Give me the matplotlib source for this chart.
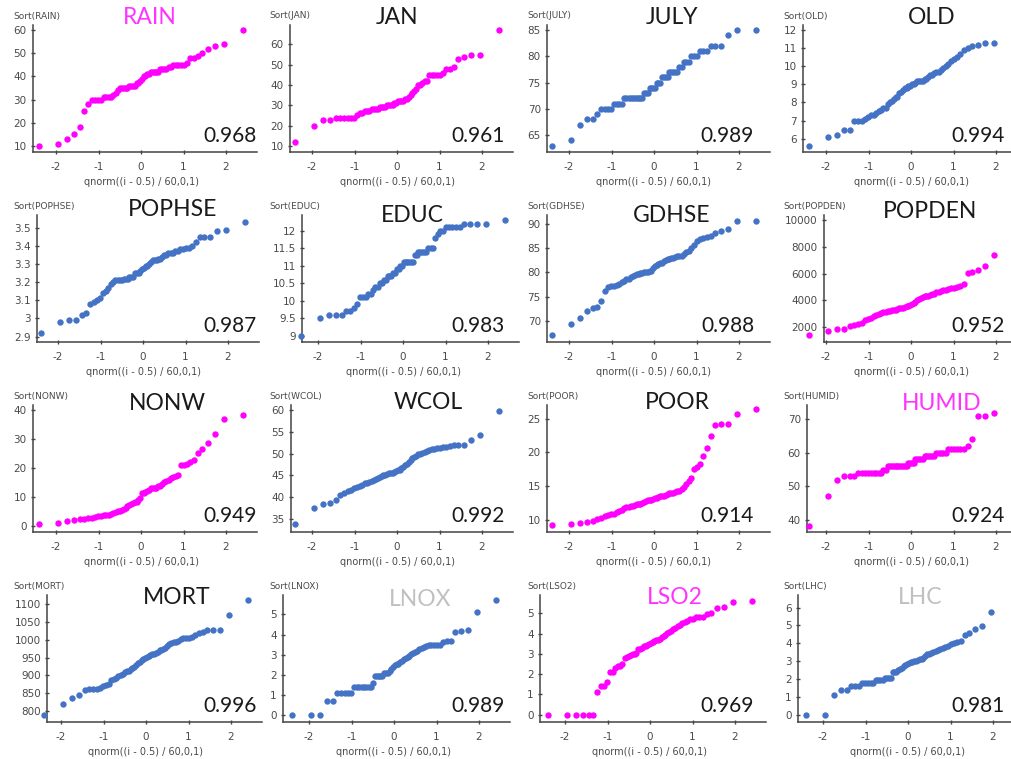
import statistics
import matplotlib
matplotlib.use('Agg')
import matplotlib.pyplot as plt
from matplotlib.ticker import MultipleLocator, FuncFormatter

# sorted values of each variable
rain = [10, 11, 13, 15, 18, 25, 28, 30, 30, 30,
        30, 31, 31, 31, 31, 32, 33, 34, 35, 35,
        35, 35, 35, 36, 36, 36, 36, 37, 37, 38,
        39, 40, 40, 41, 41, 42, 42, 42, 42, 42,
        43, 43, 43, 43, 44, 44, 45, 45, 45, 45,
        45, 46, 48, 48, 49, 50, 52, 53, 54, 60]
jan = [12, 20, 23, 23, 24, 24, 24, 24, 24, 24,
       25, 26, 26, 27, 27, 27, 28, 28, 28, 28,
       29, 29, 29, 29, 30, 30, 30, 30, 31, 31,
       32, 32, 32, 32, 33, 33, 34, 35, 36, 37,
       38, 40, 40, 41, 42, 42, 45, 45, 45, 45,
       45, 46, 48, 48, 49, 53, 54, 55, 55, 67]
july = [63, 64, 67, 68, 68, 69, 70, 70, 70, 70,
        71, 71, 71, 71, 72, 72, 72, 72, 72, 72,
        72, 72, 72, 72, 73, 73, 73, 74, 74, 74,
        74, 75, 75, 75, 76, 76, 76, 76, 77, 77,
        77, 77, 77, 78, 78, 79, 79, 79, 80, 80,
        80, 81, 81, 81, 82, 82, 82, 84, 85, 85]
old = [5.6, 6.1, 6.2, 6.5, 6.5, 7.0, 7.0, 7.0, 7.1, 7.2,
       7.3, 7.3, 7.4, 7.5, 7.6, 7.7, 7.7, 7.9, 8.0, 8.1,
       8.2, 8.3, 8.3, 8.5, 8.6, 8.7, 8.8, 8.8, 8.9, 8.9,
       9.0, 9.0, 9.1, 9.2, 9.2, 9.2, 9.2, 9.3, 9.3, 9.4,
       9.5, 9.5, 9.6, 9.7, 9.7, 9.8, 9.9, 10.0, 10.1, 10.3,
       10.4, 10.5, 10.7, 10.9, 11.0, 11.1, 11.2, 11.3, 11.3]
pophse = [2.92, 2.98, 2.99, 2.99, 3.02, 3.03, 3.08, 3.09, 3.10, 3.11,
          3.14, 3.15, 3.17, 3.19, 3.20, 3.21, 3.21, 3.21, 3.21, 3.22,
          3.22, 3.22, 3.23, 3.23, 3.23, 3.25, 3.25, 3.25, 3.26, 3.27,
          3.28, 3.29, 3.29, 3.30, 3.31, 3.32, 3.32, 3.32, 3.33, 3.33,
          3.34, 3.35, 3.35, 3.36, 3.36, 3.36, 3.37, 3.37, 3.38, 3.38,
          3.39, 3.39, 3.40, 3.42, 3.45, 3.45, 3.45, 3.48, 3.49, 3.53]
educ = [9.0, 9.5, 9.6, 9.6, 9.6, 9.7, 9.7, 9.8, 9.9, 10.1,
        10.1, 10.1, 10.2, 10.2, 10.3, 10.4, 10.4, 10.5, 10.5, 10.6,
        10.6, 10.7, 10.7, 10.7, 10.8, 10.8, 10.9, 10.9, 11.0, 11.0,
        11.1, 11.1, 11.1, 11.1, 11.1, 11.1, 11.3, 11.3, 11.4, 11.4,
        11.4, 11.4, 11.4, 11.5, 11.5, 11.5, 11.8, 11.9, 12.0, 12.0,
        12.1, 12.1, 12.1, 12.1, 12.1, 12.2, 12.2, 12.2, 12.2, 12.3]
gdhse = [67.0, 69.4, 70.5, 72.0, 72.6, 72.8, 74.0, 76.2, 77.0, 77.2,
         77.3, 77.5, 77.7, 78.0, 78.3, 78.6, 78.7, 79.0, 79.3, 79.5,
         79.6, 79.7, 79.8, 79.9, 80.0, 80.0, 80.1, 80.2, 80.4, 81.0,
         81.4, 81.6, 81.7, 81.9, 82.0, 82.3, 82.5, 82.7, 82.8, 83.0,
         83.0, 83.2, 83.4, 83.5, 83.5, 83.8, 84.2, 84.5, 85.0, 85.7,
         86.5, 87.0, 87.2, 87.3, 87.6, 88.2, 88.5, 89.0, 90.7, 90.7]
popden = [1400, 1700, 1800, 1850, 2050, 2100, 2200, 2300, 2500, 2600,
          2700, 2800, 2900, 3000, 3050, 3100, 3150, 3200, 3200, 3250,
          3300, 3300, 3350, 3400, 3400, 3450, 3500, 3550, 3600, 3650,
          3700, 3800, 3900, 4000, 4100, 4200, 4250, 4300, 4300, 4350,
          4400, 4450, 4500, 4600, 4650, 4700, 4750, 4800, 4850, 4900,
          4950, 5000, 5100, 5200, 6050, 6150, 6300, 6550, 7400]
nonw = [0.8, 1.1, 1.8, 2.2, 2.3, 2.5, 2.7, 2.9, 3.2, 3.4,
        3.5, 3.6, 3.7, 3.9, 4.2, 4.6, 4.9, 5.1, 5.3, 5.5,
        5.9, 6.3, 6.8, 7.3, 7.6, 7.9, 8.1, 8.4, 8.9, 9.6,
        11.2, 11.5, 11.8, 12.0, 12.5, 13.0, 13.1, 13.2, 13.2, 13.6,
        13.9, 14.5, 15.1, 15.6, 16.0, 16.5, 16.9, 17.3, 17.7, 21.0,
        21.0, 21.3, 22.2, 22.9, 25.0, 26.4, 28.6, 31.6, 36.8, 38.4]
wcol = [33.8, 37.5, 38.4, 38.7, 39.2, 40.5, 41.0, 41.3, 41.7, 42.0,
        42.2, 42.5, 42.8, 43.1, 43.3, 43.5, 43.7, 43.9, 44.1, 44.3,
        44.6, 44.9, 45.0, 45.1, 45.3, 45.4, 45.5, 45.6, 45.8, 45.9,
        46.1, 46.3, 46.7, 47.0, 47.3, 47.7, 48.1, 48.6, 48.9, 49.2,
        49.5, 49.8, 50.0, 50.2, 50.4, 50.7, 50.9, 51.0, 51.1, 51.2,
        51.3, 51.4, 51.6, 51.8, 51.9, 52.0, 52.0, 53.1, 54.2, 59.8]
poor = [9.3, 9.4, 9.6, 9.7, 9.9, 10.1, 10.3, 10.5, 10.7, 10.8,
        10.9, 11.1, 11.3, 11.5, 11.8, 11.9, 11.9, 12.0, 12.1, 12.2,
        12.3, 12.3, 12.4, 12.5, 12.6, 12.8, 12.9, 13.0, 13.0, 13.1,
        13.2, 13.3, 13.4, 13.5, 13.6, 13.6, 13.7, 13.8, 13.9, 13.9,
        14.0, 14.1, 14.2, 14.3, 14.6, 14.9, 15.3, 15.8, 16.2, 17.6,
        17.8, 18.3, 19.5, 20.7, 22.4, 24.1, 24.2, 24.2, 25.6, 26.4]
humid = [38, 47, 52, 53, 53, 53, 54, 54, 54, 54,
         54, 54, 54, 54, 54, 55, 55, 56, 56, 56,
         56, 56, 56, 56, 56, 56, 56, 56, 57, 57,
         57, 57, 58, 58, 58, 58, 58, 59, 59, 59,
         59, 59, 59, 60, 60, 60, 60, 60, 61, 61,
         61, 61, 61, 61, 62, 64, 71, 71, 72]
mort = [790, 821, 837, 845, 858, 862, 863, 863, 864, 870,
        872, 875, 887, 890, 894, 897, 900, 903, 910, 912,
        913, 917, 920, 924, 930, 935, 939, 942, 946, 950,
        953, 955, 957, 959, 961, 963, 966, 970, 972, 973,
        976, 982, 987, 990, 993, 995, 997, 1001, 1004, 1005,
        1006, 1009, 1013, 1018, 1022, 1027, 1027, 1029, 1071, 1113]
lnox = [0, 0, 0, 0.69, 0.69, 1.10, 1.10, 1.10, 1.10, 1.10,
        1.39, 1.39, 1.39, 1.39, 1.39, 1.39, 1.39, 1.39, 1.61, 1.95,
        1.95, 1.95, 1.95, 1.95, 2.08, 2.08, 2.08, 2.20, 2.30, 2.40,
        2.48, 2.56, 2.56, 2.64, 2.71, 2.77, 2.83, 2.89, 2.94, 3.04,
        3.09, 3.14, 3.18, 3.30, 3.33, 3.37, 3.43, 3.50, 3.50, 3.50,
        3.50, 3.50, 3.61, 3.66, 3.66, 4.14, 4.17, 4.22, 5.13, 5.69]
lso2 = [0, 0, 0, 0, 0, 0, 1.10, 1.39, 1.39, 1.61,
        2.08, 2.08, 2.30, 2.40, 2.40, 2.48, 2.77, 2.83, 2.89, 2.94,
        3.00, 3.00, 3.04, 3.22, 3.26, 3.30, 3.37, 3.40, 3.43, 3.50,
        3.53, 3.58, 3.61, 3.66, 3.69, 3.74, 3.81, 3.89, 3.95, 4.04,
        4.09, 4.14, 4.22, 4.29, 4.36, 4.42, 4.50, 4.55, 4.62, 4.70,
        4.74, 4.80, 4.84, 4.84, 4.94, 5.01, 5.25, 5.31, 5.54, 5.58]
lhc = [0, 0, 1.10, 1.39, 1.39, 1.61, 1.61, 1.61, 1.79, 1.79,
       1.79, 1.79, 1.79, 1.95, 1.95, 1.95, 1.95, 2.08, 2.08, 2.08,
       2.08, 2.40, 2.40, 2.40, 2.48, 2.56, 2.64, 2.71, 2.77, 2.83,
       2.89, 2.94, 2.94, 3.00, 3.00, 3.04, 3.09, 3.14, 3.18, 3.26,
       3.37, 3.40, 3.43, 3.50, 3.56, 3.64, 3.69, 3.74, 3.81, 3.87,
       3.93, 4.01, 4.06, 4.14, 4.44, 4.57, 4.80, 4.97, 5.75]

names = ['RAIN', 'JAN', 'JULY', 'OLD', 'POPHSE', 'EDUC', 'GDHSE', 'POPDEN',
         'NONW', 'WCOL', 'POOR', 'HUMID', 'MORT', 'LNOX', 'LSO2', 'LHC']
series = [rain, jan, july, old, pophse, educ, gdhse, popden,
          nonw, wcol, poor, humid, mort, lnox, lso2, lhc]
corr = ['0.968', '0.961', '0.989', '0.994', '0.987', '0.983', '0.988', '0.952',
        '0.949', '0.992', '0.914', '0.924', '0.996', '0.989', '0.969', '0.981']
ylims = [(7.4, 62.2), (7, 69.6), (61.8, 86), (5.26, 12.28),
         (2.87, 3.57), (8.83, 12.45), (65.6, 91.9), (860, 10400),
         (-2.1, 41.7), (31.9, 61.2), (8.2, 27), (36.3, 74.3),
         (769, 1126), (-0.33, 5.96), (-0.36, 5.9), (-0.41, 6.7)]
ysteps = [10, 10, 5, 1, 0.1, 0.5, 5, 2000, 10, 5, 5, 10, 50, 1, 1, 1]

MAG = '#FF00FF'
BLUE = '#4472C4'
dot_colors = [MAG, MAG, BLUE, BLUE, BLUE, BLUE, BLUE, MAG,
              MAG, BLUE, MAG, MAG, BLUE, BLUE, MAG, BLUE]
TXT = '#1a1a1a'
GREY = '#C0C0C0'
title_colors = ['#FF33FF', TXT, TXT, TXT, TXT, TXT, TXT, TXT,
                TXT, TXT, TXT, '#FF33FF', TXT, GREY, '#FF33FF', GREY]

# layout, in pixels of the 1011x759 picture
W, H = 1011, 759
spine_px = [33, 290, 547, 803, 37, 302, 547, 824,
            33, 291, 547, 807, 47, 283, 540, 798]
zero_px = [141, 397, 654, 911, 143, 403, 654, 911,
           141, 397, 654, 911, 146, 394, 650, 908]
title_x = [150, 397, 672, 932, 173, 412, 672, 930,
           167, 428, 677, 942, 177, 420, 675, 920]
title_y = [17, 17, 17, 17, 210, 215, 215, 212,
           403, 402, 402, 403, 598, 600, 598, 598]
row_top = [25, 215, 405, 595]
row_bot = [152, 342, 532, 722]
sort_x = [13, 269, 527, 783]
corr_x = [257, 505, 754, 1005]
unit = 42.5

nd = statistics.NormalDist()
fig = plt.figure(figsize=(W / 100, H / 100), dpi=100)

for i, name in enumerate(names):
    r, c = divmod(i, 4)
    L, X0 = spine_px[i], zero_px[i]
    R = X0 + 116
    T, B = row_top[r], row_bot[r]
    ax = fig.add_axes([L / W, 1 - B / H, (R - L) / W, (B - T) / H])

    vals = series[i]
    xs = [nd.inv_cdf((k - 0.5) / 60) for k in range(1, len(vals) + 1)]
    ax.scatter(xs, vals, s=21, color=dot_colors[i], linewidths=0, clip_on=False, zorder=3)

    ax.set_xlim((L - X0) / unit, (R - X0) / unit)
    ax.set_ylim(*ylims[i])
    ax.xaxis.set_major_locator(MultipleLocator(1))
    ax.yaxis.set_major_locator(MultipleLocator(ysteps[i]))
    ax.yaxis.set_major_formatter(FuncFormatter(lambda v, p: '%g' % round(v, 6)))
    ax.xaxis.set_major_formatter(FuncFormatter(lambda v, p: '%g' % round(v, 6)))

    for s in ['top', 'right']:
        ax.spines[s].set_visible(False)
    for s in ['left', 'bottom']:
        ax.spines[s].set_color('#444444')
        ax.spines[s].set_linewidth(1.1)
    ax.patch.set_alpha(0)
    ax.tick_params(labelsize=7.5, colors='#444444', labelcolor='#4a4a4a',
                   length=3, width=1, direction='inout')
    ax.tick_params(axis='x', pad=5.5)
    ax.tick_params(axis='y', pad=3)

    ax.annotate('qnorm((i - 0.5) / 60,0,1)', xy=(0, 0), xycoords=ax.get_xaxis_transform(),
                xytext=(0, -21.5), textcoords='offset points', ha='center', va='center',
                fontsize=7, color='#4a4a4a')

    fig.text(sort_x[c] / W, 1 - (T - 9) / H, 'Sort(%s)' % name, fontsize=6.5,
             color='#4a4a4a', ha='left', va='center')
    fig.text(title_x[i] / W, 1 - title_y[i] / H, name, fontsize=16.5, family='Lato',
             color=title_colors[i], ha='center', va='center')
    fig.text(corr_x[c] / W, 1 - (B - 16) / H, corr[i], fontsize=15, family='Lato',
             color=TXT, ha='right', va='center')

fig.savefig('out.png', dpi=100)
